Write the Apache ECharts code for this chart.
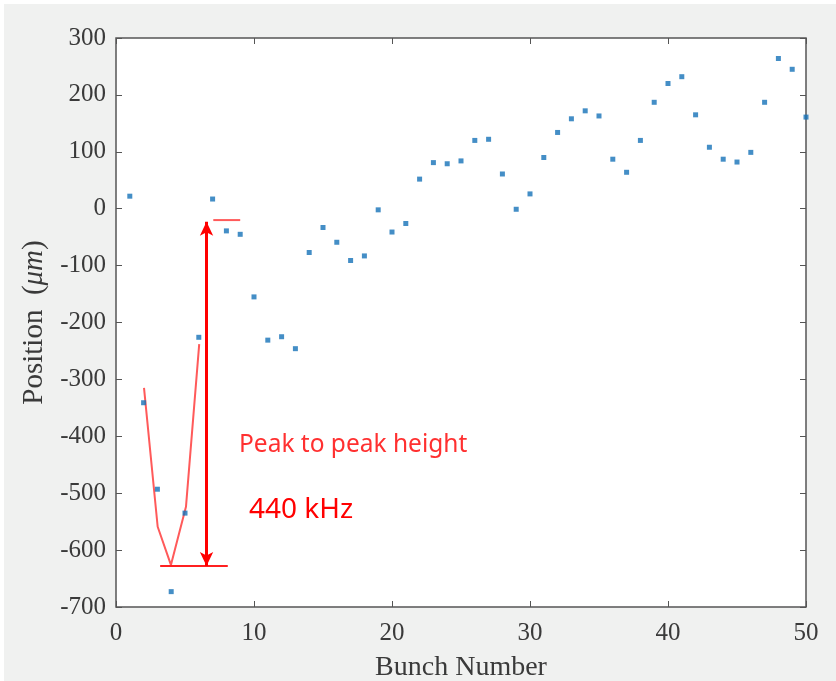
<!DOCTYPE html>
<html>
<head>
<meta charset="utf-8">
<script src="https://cdn.jsdelivr.net/npm/echarts@6/dist/echarts.min.js"></script>
<style>
  html, body { margin: 0; padding: 0; background: #fff; }
  #main { width: 836px; height: 681px; }
</style>
</head>
<body>
<div id="main"></div>
<script>
// bunch number 1..50 and measured position (um)
const bunches = [
  1, 2, 3, 4, 5, 6, 7, 8, 9, 10,
  11, 12, 13, 14, 15, 16, 17, 18, 19, 20,
  21, 22, 23, 24, 25, 26, 27, 28, 29, 30,
  31, 32, 33, 34, 35, 36, 37, 38, 39, 40,
  41, 42, 43, 44, 45, 46, 47, 48, 49, 50
];
const positions = [
  22, -341, -493, -673, -535, -226, 17, -39, -45, -155,
  -231, -225, -246, -77, -33, -59, -91, -83, -2, -41,
  -26, 52, 81, 79, 84, 120, 122, 61, -1, 26,
  90, 134, 158, 172, 163, 87, 64, 120, 187, 220,
  232, 165, 108, 87, 82, 99, 187, 264, 245, 161
];

// red hand-drawn annotation (V-shape guide)
const guideX = [2.03, 3.02, 3.98, 5.07, 6.03];
const guideY = [-315, -559, -626, -524, -238];
const baseLine = [[3.2, -628], [8.1, -628]];
const topLine = [[7.05, -20], [9.0, -20]];
const arrowX = 6.56;
const arrowTop = -23;
const arrowBottom = -628;

const chart = echarts.init(document.getElementById('main'));

const serif = '"Liberation Serif", "DejaVu Serif", serif';
const tickLabel = { color: '#3a3a3a', fontFamily: serif, fontSize: 25 };
const tickStyle = { inside: true, length: 6, lineStyle: { color: '#555' } };

const option = {
  backgroundColor: '#f0f1f0',
  animation: false,
  graphic: [
    { type: 'rect', left: 0, top: 0, shape: { width: 4, height: 681 }, style: { fill: '#fff' }, silent: true },
    { type: 'rect', left: 0, top: 0, shape: { width: 836, height: 4 }, style: { fill: '#fff' }, silent: true },
    {
      type: 'text', left: 239, top: 433,
      style: { text: 'Peak to peak height', fill: '#ff3030', font: '24.5px "Noto Sans", sans-serif' }
    },
    {
      type: 'text', left: 249, top: 496,
      style: { text: '440 kHz', fill: '#ff0000', font: '28px "Noto Sans", sans-serif' }
    }
  ],
  grid: {
    left: 116, right: 30, top: 38, bottom: 74,
    outerBoundsMode: 'none',
    show: true, backgroundColor: '#fff', borderColor: '#555', borderWidth: 1.5
  },
  xAxis: [
    {
      type: 'value', min: 0, max: 50, interval: 10,
      name: 'Bunch Number', nameLocation: 'middle', nameGap: 47,
      nameTextStyle: { color: '#3a3a3a', fontFamily: serif, fontSize: 28 },
      axisLine: { show: false, onZero: false },
      axisTick: tickStyle,
      axisLabel: Object.assign({ margin: 14 }, tickLabel),
      splitLine: { show: false }
    },
    {
      type: 'value', position: 'top', min: 0, max: 50, interval: 10,
      axisLine: { show: false, onZero: false },
      axisTick: tickStyle,
      axisLabel: { show: false },
      splitLine: { show: false }
    }
  ],
  yAxis: [
    {
      type: 'value', min: -700, max: 300, interval: 100,
      name: '{n|Position  (}{i|μm}{n|)}', nameLocation: 'middle', nameGap: 52,
      nameTextStyle: {
        rich: {
          n: { color: '#3a3a3a', fontFamily: serif, fontSize: 29 },
          i: { color: '#3a3a3a', fontFamily: serif, fontSize: 29, fontStyle: 'italic' }
        }
      },
      axisLine: { show: false, onZero: false },
      axisTick: tickStyle,
      axisLabel: Object.assign({ margin: 10 }, tickLabel),
      splitLine: { show: false }
    },
    {
      type: 'value', position: 'right', min: -700, max: 300, interval: 100,
      axisLine: { show: false, onZero: false },
      axisTick: tickStyle,
      axisLabel: { show: false },
      splitLine: { show: false }
    }
  ],
  series: [
    {
      type: 'scatter',
      symbol: 'rect',
      symbolSize: [5, 5],
      itemStyle: { color: '#1572b8' },
      data: bunches.map((b, i) => [b, positions[i]]),
      z: 3
    },
    {
      type: 'line',
      symbol: 'none',
      lineStyle: { color: '#ff5a5a', width: 2 },
      data: guideX.map((x, i) => [x, guideY[i]])
    },
    {
      type: 'line',
      symbol: 'none',
      lineStyle: { color: '#ff2020', width: 2 },
      data: baseLine
    },
    {
      type: 'line',
      symbol: 'none',
      lineStyle: { color: '#ff5a5a', width: 2 },
      data: topLine
    },
    {
      type: 'line',
      symbol: 'none',
      data: [],
      markLine: {
        silent: true,
        symbol: ['arrow', 'arrow'],
        symbolSize: [10, 14],
        label: { show: false },
        lineStyle: { color: '#ff0000', width: 3, type: 'solid' },
        data: [[{ coord: [arrowX, arrowTop] }, { coord: [arrowX, arrowBottom] }]]
      }
    }
  ]
};

chart.setOption(option);
</script>
</body>
</html>
